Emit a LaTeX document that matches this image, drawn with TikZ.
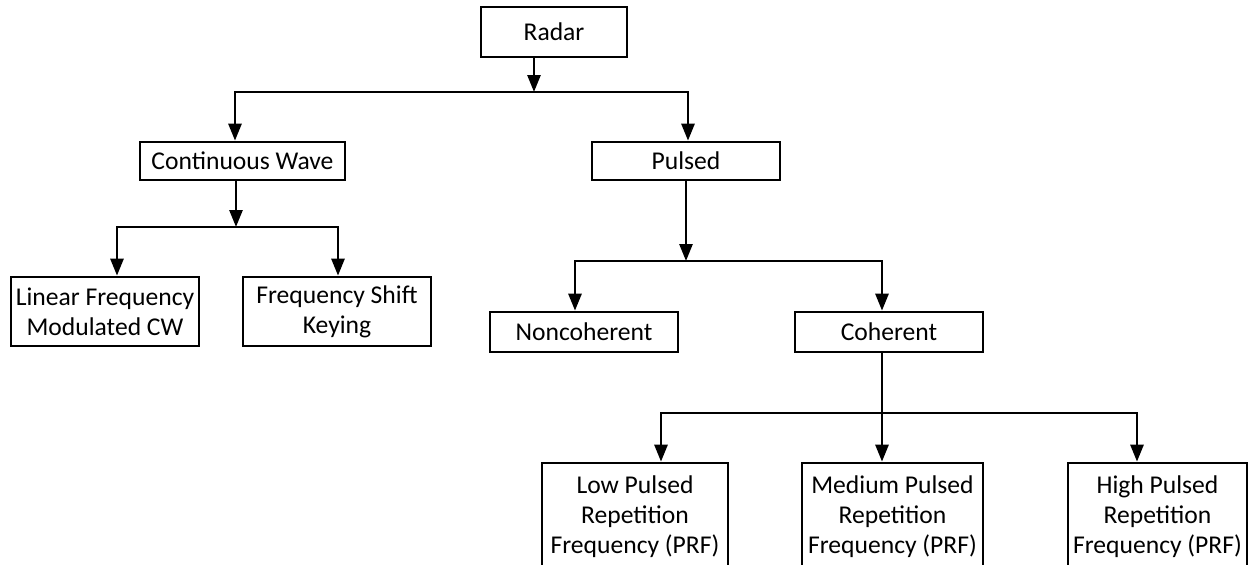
\documentclass[tikz,border=0pt]{standalone}
\usepackage{fontspec}
\setmainfont{Carlito}
\usetikzlibrary{arrows.meta}

\begin{document}
\begin{tikzpicture}[x=0.5pt, y=-0.5pt, font=\fontsize{12.8}{15}\selectfont,
    box/.style={draw, line width=1.35pt, inner sep=0pt, align=center},
    arr/.style={line width=1.35pt, -{Triangle[width=6.5pt,length=8.5pt]}}]
\useasboundingbox (0,0) rectangle (1249,564);
\clip (0,0) rectangle (1249,564);
\node[box, minimum width=73pt, minimum height=25pt] (radar) at (554,32) {Radar};
\node[box, minimum width=102.5pt, minimum height=19pt] (cw) at (242.5,161) {Continuous Wave};
\node[box, minimum width=94pt, minimum height=19pt] (pulsed) at (686,161) {Pulsed};
\node[box, minimum width=94pt, minimum height=34.5pt] (lfm) at (105,311.5) {Linear Frequency\\Modulated CW};
\node[box, minimum width=94pt, minimum height=34.5pt] (fsk) at (337,311.5) {Frequency Shift\\Keying};
\node[box, minimum width=94pt, minimum height=20pt] (nonco) at (584,332) {Noncoherent};
\node[box, minimum width=94pt, minimum height=20pt] (coh) at (889,332) {Coherent};
\node[box, minimum width=93pt, minimum height=54pt] (low) at (635,517) {Low Pulsed\\Repetition\\Frequency (PRF)};
\node[box, minimum width=90.5pt, minimum height=54pt] (med) at (892.5,517) {Medium Pulsed\\Repetition\\Frequency (PRF)};
\node[box, minimum width=89.5pt, minimum height=54pt] (high) at (1157.5,517) {High Pulsed\\Repetition\\Frequency (PRF)};

\coordinate (j1) at (534,92);  \coordinate (b1w) at (235,92);  \coordinate (b1e) at (688,92);
\coordinate (j2) at (236,227); \coordinate (b2w) at (117,227); \coordinate (b2e) at (338,227);
\coordinate (j3) at (686,261); \coordinate (b3w) at (575,261); \coordinate (b3e) at (882,261);
\coordinate (j4) at (882,413); \coordinate (b4w) at (661,413); \coordinate (b4e) at (1137,413);

\draw[arr] (radar.south -| j1) -- (j1);
\draw[arr] (j1) -- (b1w) -- (b1w |- cw.north);
\draw[arr] (j1) -- (b1e) -- (b1e |- pulsed.north);

\draw[arr] (cw.south -| j2) -- (j2);
\draw[arr] (j2) -- (b2w) -- (b2w |- lfm.north);
\draw[arr] (j2) -- (b2e) -- (b2e |- fsk.north);

\draw[arr] (pulsed.south -| j3) -- (j3);
\draw[arr] (j3) -- (b3w) -- (b3w |- nonco.north);
\draw[arr] (j3) -- (b3e) -- (b3e |- coh.north);

\draw[arr] (coh.south -| j4) -- (j4 |- med.north);
\draw[arr] (j4) -- (b4w) -- (b4w |- low.north);
\draw[arr] (j4) -- (b4e) -- (b4e |- high.north);
\end{tikzpicture}
\end{document}
